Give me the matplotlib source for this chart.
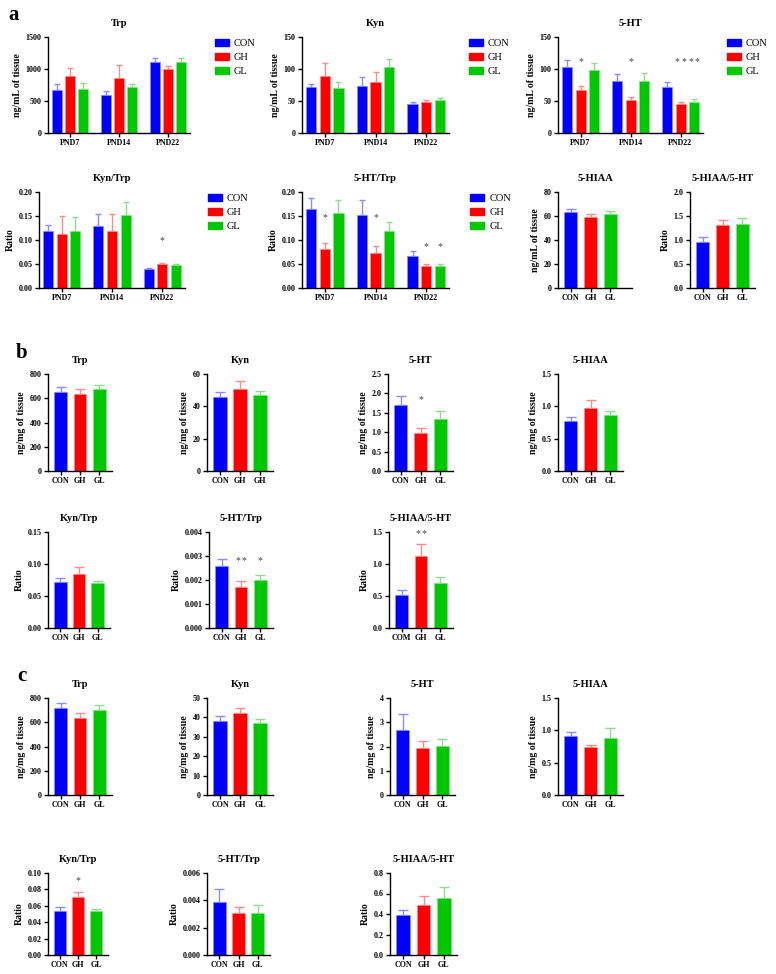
import numpy as np
import matplotlib
matplotlib.use("Agg")
import matplotlib.pyplot as plt
from matplotlib.patches import Patch
from matplotlib.ticker import FormatStrFormatter

W, H = 776, 974

plt.rcParams['font.family'] = ['Liberation Serif', 'DejaVu Serif']
plt.rcParams['font.weight'] = 'bold'
plt.rcParams['axes.linewidth'] = 1.0

groups = ['CON', 'GH', 'GL']
pnds = ['PND7', 'PND14', 'PND22']
colors = ['#0000ff', '#ff0000', '#00c800']
light = ['#8c8cff', '#ff8c8c', '#8ce08c']

# panel a : rows PND7, PND14, PND22 ; columns CON, GH, GL
a_trp = [[670, 885, 690], [600, 855, 720], [1115, 1005, 1115]]
a_trp_err = [[90, 130, 95], [50, 215, 40], [60, 45, 60]]
a_kyn = [[72, 89, 71], [74, 79, 103], [45, 49, 52]]
a_kyn_err = [[5, 21, 8], [14, 16, 13], [4, 3, 3]]
a_5ht = [[103, 67, 98], [82, 51, 82], [72, 46, 49]]
a_5ht_err = [[11, 7, 11], [10, 6, 11], [8, 2, 4]]
a_5ht_stars = [(0, 1, '*', 111), (1, 1, '*', 111), (2, 1, '**', 111), (2, 2, '**', 111)]
a_kt = [[0.118, 0.113, 0.118], [0.129, 0.119, 0.152], [0.040, 0.049, 0.047]]
a_kt_err = [[0.013, 0.037, 0.030], [0.026, 0.035, 0.027], [0.002, 0.003, 0.003]]
a_kt_stars = [(2, 1, '*', 0.098)]
a_ht = [[0.165, 0.082, 0.157], [0.152, 0.072, 0.119], [0.067, 0.046, 0.046]]
a_ht_err = [[0.022, 0.012, 0.026], [0.031, 0.015, 0.019], [0.010, 0.003, 0.004]]
a_ht_stars = [(0, 1, '*', 0.146), (1, 1, '*', 0.146), (2, 1, '*', 0.087), (2, 2, '*', 0.087)]
a_hiaa = [63.5, 59, 62]
a_hiaa_err = [2.5, 3, 2]
a_ratio = [0.95, 1.31, 1.33]
a_ratio_err = [0.11, 0.10, 0.12]

# panel b : CON, GH, GL
b_trp = [655, 638, 680]
b_trp_err = [35, 40, 32]
b_kyn = [46, 51, 47]
b_kyn_err = [3, 4.5, 2.5]
b_5ht = [1.70, 0.99, 1.35]
b_5ht_err = [0.23, 0.11, 0.20]
b_5ht_stars = [(1, '*', 1.83)]
b_hiaa = [0.78, 0.97, 0.86]
b_hiaa_err = [0.06, 0.13, 0.07]
b_kt = [0.072, 0.085, 0.070]
b_kt_err = [0.006, 0.010, 0.004]
b_ht = [0.0026, 0.0017, 0.0020]
b_ht_err = [0.00028, 0.00026, 0.00022]
b_ht_stars = [(1, '**', 0.0028), (2, '*', 0.0028)]
b_ratio = [0.51, 1.12, 0.71]
b_ratio_err = [0.09, 0.20, 0.08]
b_ratio_stars = [(1, '**', 1.48)]

# panel c : CON, GH, GL
c_trp = [720, 632, 698]
c_trp_err = [40, 45, 45]
c_kyn = [38, 42.5, 37.3]
c_kyn_err = [2.5, 2.5, 1.8]
c_5ht = [2.70, 1.95, 2.02]
c_5ht_err = [0.65, 0.27, 0.30]
c_hiaa = [0.91, 0.74, 0.88]
c_hiaa_err = [0.07, 0.04, 0.15]
c_kt = [0.054, 0.071, 0.054]
c_kt_err = [0.004, 0.006, 0.002]
c_kt_stars = [(1, '*', 0.091)]
c_ht = [0.0039, 0.0031, 0.0031]
c_ht_err = [0.0009, 0.0004, 0.00055]
c_ratio = [0.39, 0.49, 0.56]
c_ratio_err = [0.05, 0.085, 0.105]

fig = plt.figure(figsize=(W / 100, H / 100), dpi=100)


def box(l, t, r, b):
    return fig.add_axes([l / W, 1 - b / H, (r - l) / W, (b - t) / H])


def style(ax, title, ylabel, ymax, step, fmt):
    ax.set_ylim(0, ymax)
    ax.set_yticks(np.arange(0, ymax + step / 2, step))
    ax.yaxis.set_major_formatter(FormatStrFormatter(fmt))
    for s in ['top', 'right']:
        ax.spines[s].set_visible(False)
    ax.tick_params(length=3, width=1, labelsize=5.8, pad=1.5)
    ax.set_title(title, fontsize=7.5, fontweight='bold', pad=8)
    ax.set_ylabel(ylabel, fontsize=7, fontweight='bold', labelpad=3)


def star(ax, x, y, s):
    # the two stars of "**" sit a little apart, offset in points
    offs = [-2.3, 2.3] if s == '**' else [0]
    for dx in offs:
        ax.annotate('*', (x, y), xytext=(dx, 0), textcoords='offset points',
                    ha='center', va='center', fontsize=7,
                    fontweight='normal', color='#444444')


def grouped(ax, mean, err, stars, legend_dx):
    mean = np.array(mean)
    err = np.array(err)
    x = np.arange(3)
    for j in range(3):
        xs = x + (j - 1) * 0.27
        ax.bar(xs, mean[:, j], 0.2, color=colors[j], edgecolor=light[j], lw=0.6, zorder=2)
        ax.errorbar(xs, mean[:, j], yerr=[np.zeros(3), err[:, j]], fmt='none',
                    ecolor=light[j], elinewidth=1, capsize=2.5, capthick=1, zorder=1)
    for g, j, s, y in stars:
        star(ax, g + (j - 1) * 0.27, y, s)
    ax.set_xlim(-0.45, 2.45)
    ax.set_xticks(x)
    ax.set_xticklabels(pnds)
    handles = [Patch(facecolor=c, edgecolor=c) for c in colors]
    ax.legend(handles, groups, loc='upper left', frameon=False,
              bbox_to_anchor=(1 + legend_dx, 1.0), borderaxespad=0, borderpad=0.2,
              handlelength=1.35, handleheight=0.65, labelspacing=0.45, handletextpad=0.5,
              prop={'weight': 'normal', 'size': 7.5})


def single(ax, mean, err, stars=(), labels=groups):
    x = np.arange(3)
    ax.bar(x, mean, 0.67, color=colors, edgecolor=light, lw=0.6, zorder=2)
    for j in range(3):
        ax.errorbar(x[j], mean[j], yerr=[[0], [err[j]]], fmt='none', ecolor=light[j],
                    elinewidth=1, capsize=3.5, capthick=1, zorder=1)
    for j, s, y in stars:
        star(ax, x[j], y, s)
    ax.set_xlim(-0.65, 2.65)
    ax.set_xticks(x)
    ax.set_xticklabels(labels)


# ---- panel a
ax = box(48, 37, 190, 133)
style(ax, 'Trp', 'ng/mL of tissue', 1500, 500, '%d')
grouped(ax, a_trp, a_trp_err, [], 0.16)
ax = box(302, 37, 449, 133)
style(ax, 'Kyn', 'ng/mL of tissue', 150, 50, '%d')
grouped(ax, a_kyn, a_kyn_err, [], 0.12)
ax = box(558, 37, 703, 133)
style(ax, '5-HT', 'ng/mL of tissue', 150, 50, '%d')
grouped(ax, a_5ht, a_5ht_err, a_5ht_stars, 0.15)

ax = box(39, 192, 185, 288)
style(ax, 'Kyn/Trp', 'Ratio', 0.2, 0.05, '%.2f')
grouped(ax, a_kt, a_kt_err, a_kt_stars, 0.14)
ax = box(302, 192, 449, 288)
style(ax, '5-HT/Trp', 'Ratio', 0.2, 0.05, '%.2f')
grouped(ax, a_ht, a_ht_err, a_ht_stars, 0.13)
ax = box(558, 192, 632, 288)
style(ax, '5-HIAA', 'ng/mL of tissue', 80, 20, '%d')
single(ax, a_hiaa, a_hiaa_err)
ax.set_xlim(-0.65, 3.1)
ax = box(690, 192, 755, 288)
style(ax, '5-HIAA/5-HT', 'Ratio', 2.0, 0.5, '%.1f')
single(ax, a_ratio, a_ratio_err)

# ---- panel b
ax = box(48, 374, 112, 471)
style(ax, 'Trp', 'ng/mg of tissue', 800, 200, '%d')
single(ax, b_trp, b_trp_err)
ax = box(207, 374, 273, 471)
style(ax, 'Kyn', 'ng/mg of tissue', 60, 20, '%d')
single(ax, b_kyn, b_kyn_err, labels=['CON', 'GH', 'GH'])
ax = box(388, 374, 453, 471)
style(ax, '5-HT', 'ng/mg of tissue', 2.5, 0.5, '%.1f')
single(ax, b_5ht, b_5ht_err, b_5ht_stars)
ax = box(558, 374, 623, 471)
style(ax, '5-HIAA', 'ng/mg of tissue', 1.5, 0.5, '%.1f')
single(ax, b_hiaa, b_hiaa_err)

ax = box(48, 532, 110, 628)
style(ax, 'Kyn/Trp', 'Ratio', 0.15, 0.05, '%.2f')
single(ax, b_kt, b_kt_err)
ax = box(209, 532, 273, 628)
style(ax, '5-HT/Trp', 'Ratio', 0.004, 0.001, '%.3f')
single(ax, b_ht, b_ht_err, b_ht_stars)
ax = box(389, 532, 453, 628)
style(ax, '5-HIAA/5-HT', 'Ratio', 1.5, 0.5, '%.1f')
single(ax, b_ratio, b_ratio_err, b_ratio_stars, labels=['COM', 'GH', 'GL'])

# ---- panel c
ax = box(48, 698, 112, 795)
style(ax, 'Trp', 'ng/mg of tissue', 800, 200, '%d')
single(ax, c_trp, c_trp_err)
ax = box(207, 698, 273, 795)
style(ax, 'Kyn', 'ng/mg of tissue', 50, 10, '%d')
single(ax, c_kyn, c_kyn_err)
ax = box(390, 698, 455, 795)
style(ax, '5-HT', 'ng/mg of tissue', 4, 1, '%d')
single(ax, c_5ht, c_5ht_err)
ax = box(558, 698, 623, 795)
style(ax, '5-HIAA', 'ng/mg of tissue', 1.5, 0.5, '%.1f')
single(ax, c_hiaa, c_hiaa_err)

ax = box(48, 873, 108, 955)
style(ax, 'Kyn/Trp', 'Ratio', 0.10, 0.02, '%.2f')
single(ax, c_kt, c_kt_err, c_kt_stars)
ax = box(207, 873, 270, 955)
style(ax, '5-HT/Trp', 'Ratio', 0.006, 0.002, '%.3f')
single(ax, c_ht, c_ht_err)
ax = box(390, 873, 457, 955)
style(ax, '5-HIAA/5-HT', 'Ratio', 0.8, 0.2, '%.1f')
single(ax, c_ratio, c_ratio_err)

for letter, x, y in [('a', 14, 15), ('b', 22, 353), ('c', 22, 676)]:
    fig.text(x / W, 1 - y / H, letter, fontsize=15, fontweight='bold', ha='center', va='center')

fig.savefig('out.png', dpi=100)
